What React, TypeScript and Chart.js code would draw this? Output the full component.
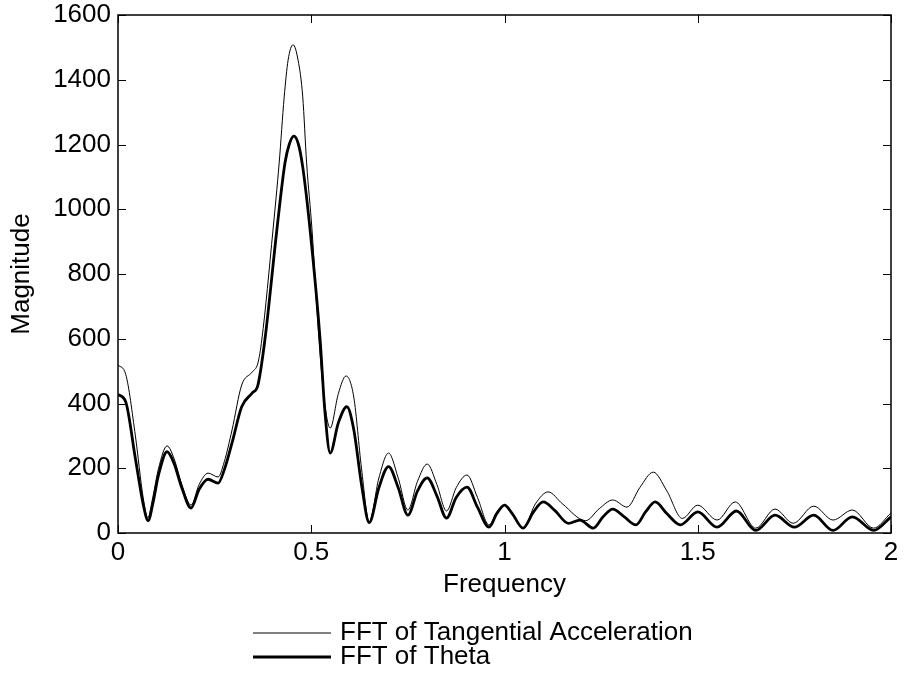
import React, { useEffect, useRef } from "react";
import { Chart, registerables } from "chart.js";

Chart.register(...registerables);

const accFreq = [0, 0.02, 0.045, 0.065, 0.077, 0.09, 0.105, 0.127, 0.145, 0.165, 0.189, 0.21, 0.233, 0.259, 0.275, 0.295, 0.32, 0.347, 0.362, 0.372, 0.401, 0.417, 0.43, 0.44, 0.453, 0.466, 0.478, 0.488, 0.502, 0.52, 0.535, 0.549, 0.57, 0.59, 0.61, 0.63, 0.65, 0.675, 0.7, 0.725, 0.75, 0.775, 0.8, 0.825, 0.85, 0.875, 0.903, 0.93, 0.96, 0.98, 1.0, 1.02, 1.048, 1.08, 1.113, 1.15, 1.21, 1.245, 1.28, 1.317, 1.35, 1.385, 1.42, 1.46, 1.5, 1.55, 1.597, 1.65, 1.7, 1.747, 1.8, 1.85, 1.9, 1.955, 2.0];
const accMag = [519, 490, 300, 110, 46, 110, 200, 269, 230, 150, 86, 150, 185, 173, 220, 318, 457, 497, 525, 596, 936, 1143, 1347, 1460, 1508, 1460, 1347, 1143, 936, 596, 400, 324, 430, 485, 420, 200, 35, 170, 247, 170, 71, 160, 213, 150, 68, 140, 179, 110, 25, 65, 86, 60, 15, 90, 127, 90, 38, 75, 102, 80, 140, 188, 130, 45, 86, 40, 96, 15, 74, 30, 83, 40, 71, 15, 62];

const thetaFreq = [0, 0.02, 0.045, 0.065, 0.078, 0.09, 0.105, 0.127, 0.145, 0.165, 0.189, 0.21, 0.233, 0.259, 0.275, 0.295, 0.32, 0.347, 0.362, 0.38, 0.411, 0.432, 0.443, 0.455, 0.467, 0.478, 0.497, 0.523, 0.535, 0.549, 0.57, 0.592, 0.61, 0.63, 0.65, 0.675, 0.7, 0.725, 0.75, 0.775, 0.8, 0.825, 0.85, 0.875, 0.903, 0.93, 0.96, 0.98, 1.0, 1.02, 1.048, 1.075, 1.1, 1.13, 1.165, 1.195, 1.23, 1.255, 1.28, 1.31, 1.34, 1.365, 1.39, 1.42, 1.455, 1.5, 1.55, 1.6, 1.65, 1.7, 1.75, 1.8, 1.85, 1.9, 1.955, 2.0];
const thetaMag = [428, 405, 230, 90, 38, 90, 180, 251, 215, 140, 77, 135, 166, 154, 195, 278, 390, 432, 457, 596, 936, 1143, 1200, 1226, 1200, 1130, 936, 596, 380, 247, 340, 390, 320, 150, 32, 140, 205, 140, 55, 130, 170, 115, 46, 110, 142, 80, 18, 60, 86, 60, 15, 65, 96, 70, 30, 40, 15, 50, 74, 50, 25, 65, 96, 60, 25, 65, 18, 68, 8, 55, 18, 55, 8, 50, 8, 50];

const xTicks = [0, 0.5, 1, 1.5, 2];
const yTicks = [0, 200, 400, 600, 800, 1000, 1200, 1400, 1600];
const seriesNames = ["FFT of Tangential Acceleration", "FFT of Theta"];
const xTitle = "Frequency";
const yTitle = "Magnitude";

const FONT = "'Liberation Sans', Arial, Helvetica, sans-serif";
const FS = 26;

const framePlugin = {
  id: "frame",
  afterDraw(chart: any) {
    const { ctx, chartArea } = chart;
    const { left, right, top, bottom } = chartArea;
    const xs = chart.scales.x;
    const ys = chart.scales.y;
    ctx.save();
    ctx.strokeStyle = "#000";
    ctx.lineWidth = 1.5;
    ctx.strokeRect(left, top, right - left, bottom - top);
    ctx.lineWidth = 1;
    const tl = 8;
    ctx.beginPath();
    yTicks.forEach((v) => {
      const py = Math.round(ys.getPixelForValue(v)) + 0.5;
      ctx.moveTo(left, py);
      ctx.lineTo(left + tl, py);
      ctx.moveTo(right, py);
      ctx.lineTo(right - tl, py);
    });
    xTicks.forEach((v) => {
      const px = Math.round(xs.getPixelForValue(v)) + 0.5;
      ctx.moveTo(px, bottom);
      ctx.lineTo(px, bottom - tl);
      ctx.moveTo(px, top);
      ctx.lineTo(px, top + tl);
    });
    ctx.stroke();

    ctx.fillStyle = "#000";
    ctx.font = `${FS}px ${FONT}`;
    ctx.textAlign = "center";
    ctx.textBaseline = "middle";
    ctx.fillText(xTitle, (left + right) / 2, bottom + 52);
    ctx.save();
    ctx.translate(22, (top + bottom) / 2);
    ctx.rotate(-Math.PI / 2);
    ctx.fillText(yTitle, 0, 0);
    ctx.restore();

    // legend
    const lx0 = 253;
    const lx1 = 331;
    const rows = [bottom + 100, bottom + 124];
    const widths = [1, 3];
    ctx.textAlign = "left";
    seriesNames.forEach((name, i) => {
      ctx.lineWidth = widths[i];
      ctx.beginPath();
      ctx.moveTo(lx0, rows[i]);
      ctx.lineTo(lx1, rows[i]);
      ctx.stroke();
      ctx.fillText(name, lx1 + 9, rows[i]);
    });
    ctx.restore();
  },
};

export default function App() {
  const ref = useRef<HTMLCanvasElement | null>(null);
  useEffect(() => {
    if (!ref.current) return;
    const chart = new Chart(ref.current, {
      type: "line",
      data: {
        datasets: [
          {
            label: seriesNames[0],
            data: accFreq.map((f, i) => ({ x: f, y: accMag[i] })),
            borderColor: "#000",
            borderWidth: 1,
            pointRadius: 0,
            fill: false,
            cubicInterpolationMode: "monotone",
          },
          {
            label: seriesNames[1],
            data: thetaFreq.map((f, i) => ({ x: f, y: thetaMag[i] })),
            borderColor: "#000",
            borderWidth: 2.8,
            pointRadius: 0,
            fill: false,
            cubicInterpolationMode: "monotone",
          },
        ],
      },
      options: {
        animation: false,
        responsive: false,
        maintainAspectRatio: false,
        layout: { padding: { top: 15, right: 13, left: 0, bottom: 0 } },
        plugins: { legend: { display: false }, tooltip: { enabled: false } },
        scales: {
          x: {
            type: "linear",
            min: 0,
            max: 2,
            afterFit: (s: any) => {
              s.height = 148;
              s.paddingLeft = 0;
              s.paddingRight = 0;
            },
            afterBuildTicks: (s: any) => {
              s.ticks = xTicks.map((v) => ({ value: v }));
            },
            ticks: {
              color: "#000",
              font: { family: FONT, size: FS },
              padding: 4,
              maxRotation: 0,
              autoSkip: false,
              callback: (v: any) => String(v),
            },
            grid: { display: false, drawTicks: false },
            border: { display: false },
          },
          y: {
            type: "linear",
            min: 0,
            max: 1600,
            afterFit: (s: any) => {
              s.width = 118;
              s.paddingTop = 0;
              s.paddingBottom = 0;
            },
            afterBuildTicks: (s: any) => {
              s.ticks = yTicks.map((v) => ({ value: v }));
            },
            ticks: {
              color: "#000",
              font: { family: FONT, size: FS },
              padding: 7,
              autoSkip: false,
              callback: (v: any) => String(v),
            },
            grid: { display: false, drawTicks: false },
            border: { display: false },
          },
        },
      },
      plugins: [framePlugin],
    });
    return () => chart.destroy();
  }, []);
  return (
    <div style={{ position: "absolute", left: 0, top: 0, width: 904, height: 681, background: "#fff" }}>
      <canvas ref={ref} width={904} height={681} style={{ display: "block" }} />
    </div>
  );
}
